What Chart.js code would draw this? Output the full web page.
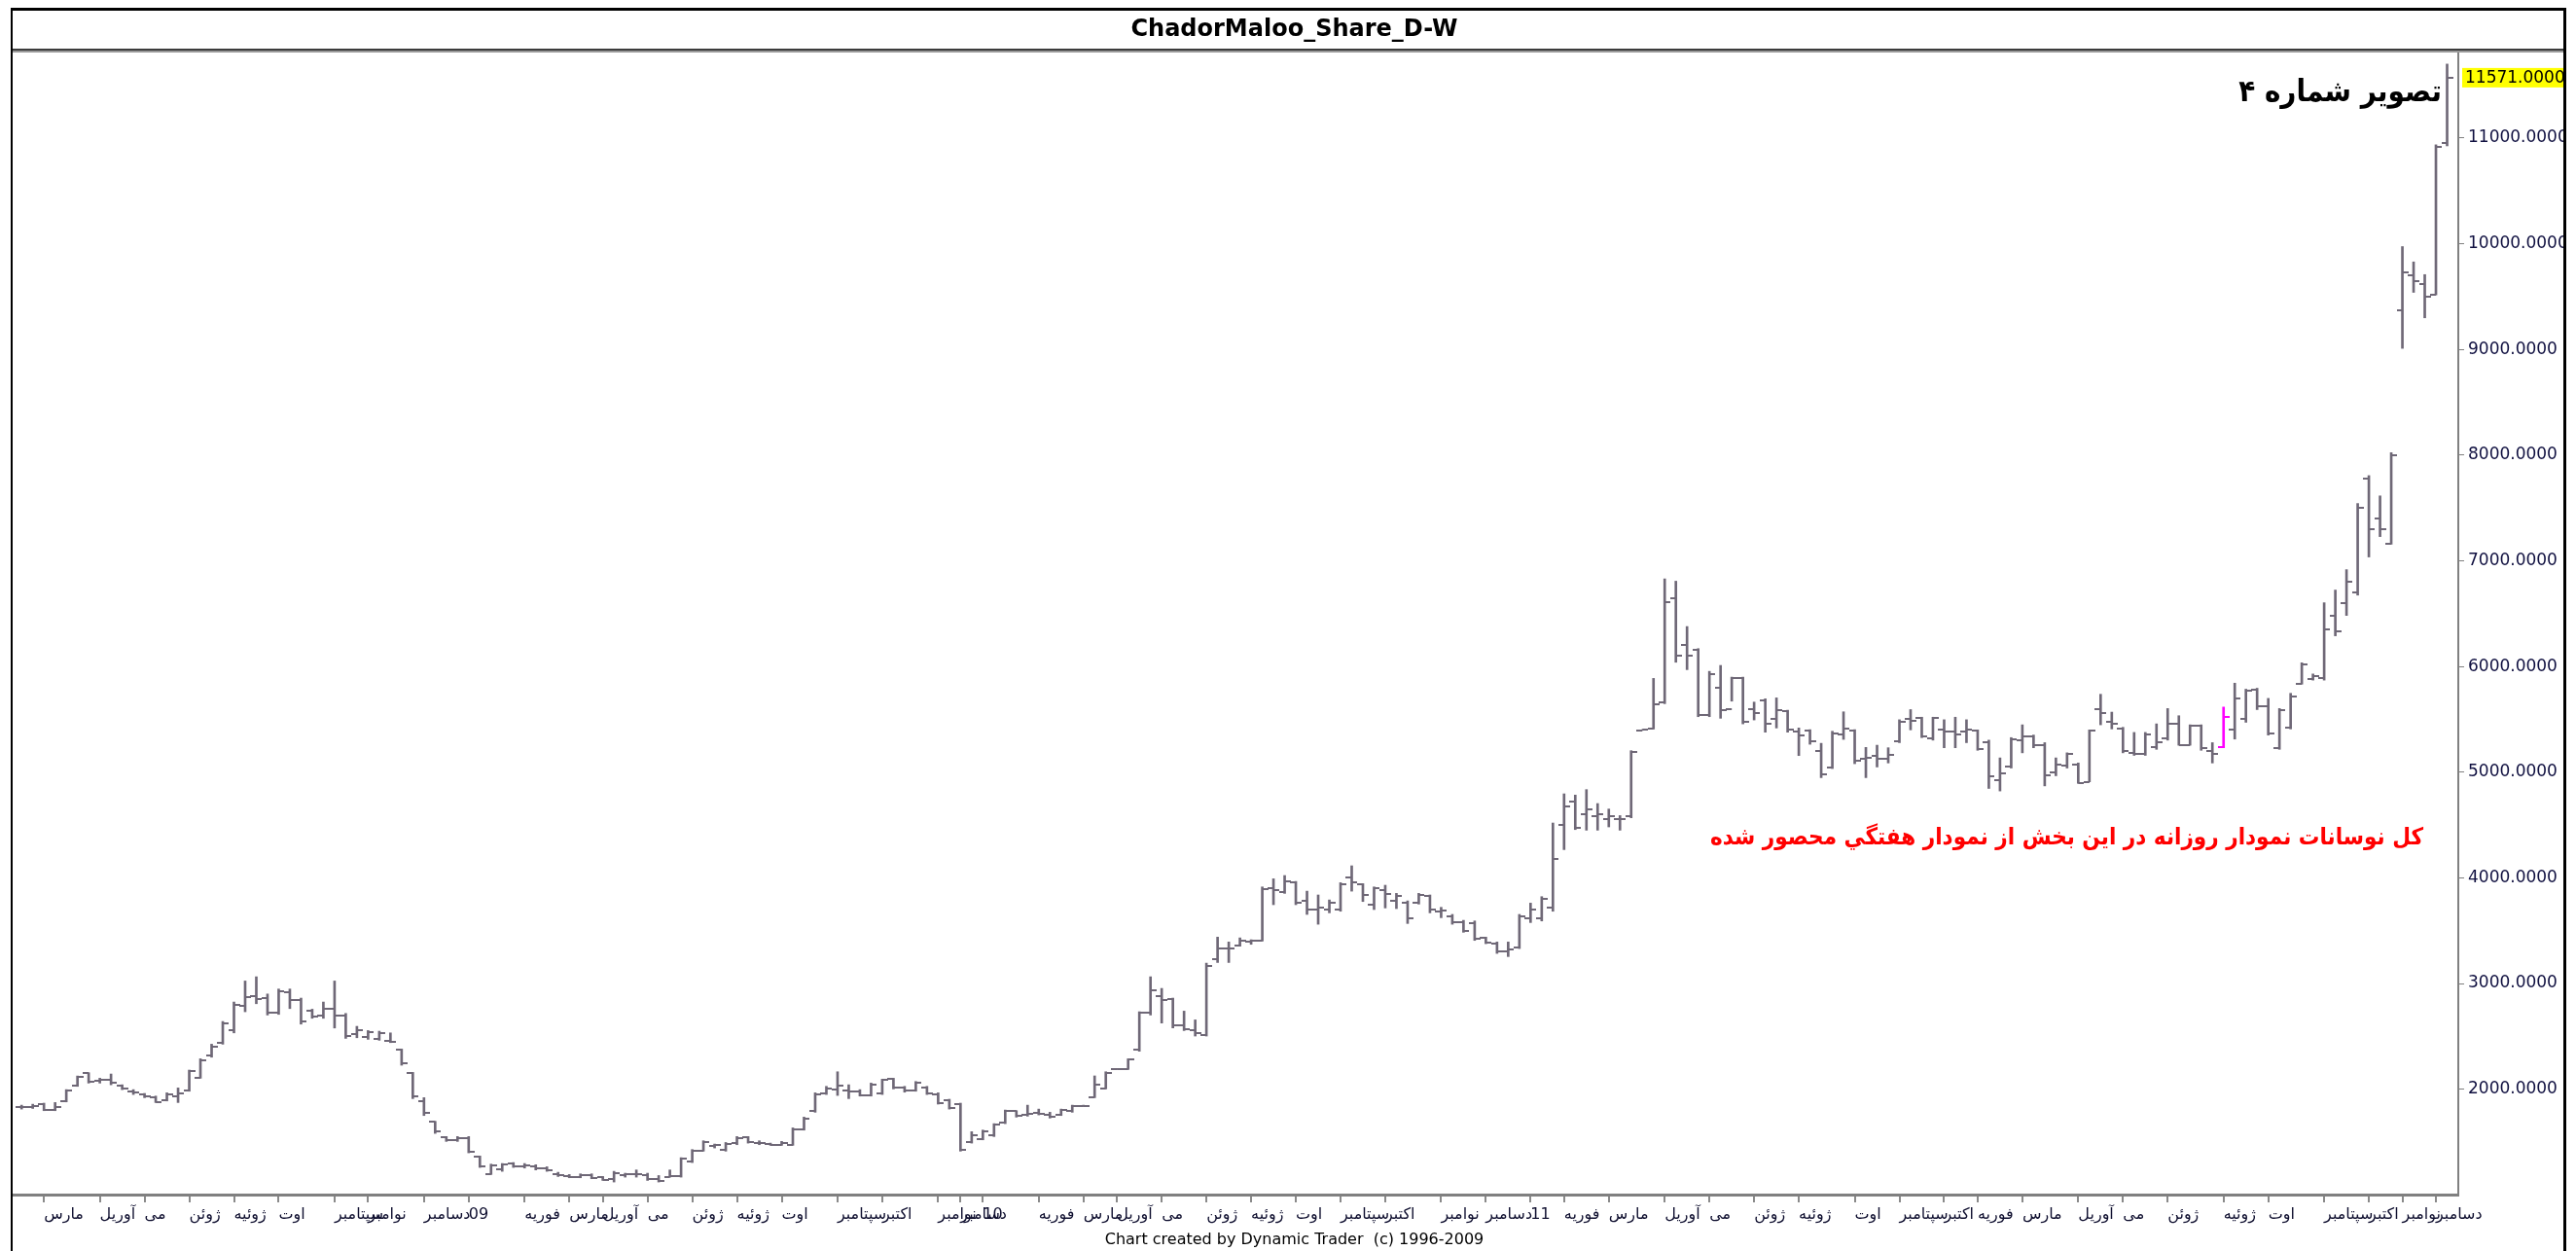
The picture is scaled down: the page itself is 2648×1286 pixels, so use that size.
<!DOCTYPE html>
<html>
<head>
<meta charset="utf-8">
<title>ChadorMaloo_Share_D-W</title>
<script src="https://cdn.jsdelivr.net/npm/chart.js@4/dist/chart.umd.min.js"></script>
<style>
  html, body { margin: 0; padding: 0; background: #fff; }
  canvas { display: block; }
</style>
</head>
<body>
<canvas id="chart" width="2648" height="1286"></canvas>
<script>
// weekly bars
const highVals = [
  1849,1858,1868,1874,1996,2125,2156,2104,2144,2042,
  1996,1960,1935,1966,2012,2181,2288,2426,2641,2825,
  3024,3064,2901,2948,2948,2862,2757,2825,3024,2717,
  2595,2555,2549,2533,2380,2159,1920,1696,1552,1552,
  1552,1368,1291,1297,1306,1297,1285,1266,1214,1193,
  1199,1199,1174,1223,1205,1236,1205,1183,1236,1352,
  1429,1512,1481,1496,1552,1552,1512,1490,1506,1634,
  1736,1966,2027,2165,2042,1996,2058,2095,2104,2027,
  2073,2027,1966,1905,1868,1598,1613,1674,1803,1797,
  1849,1812,1782,1812,1849,1849,2126,2165,2196,2288,
  2733,3064,2954,2862,2739,2656,3193,3439,3393,3432,
  3414,3914,3991,4022,3966,3874,3838,3791,3954,4114,
  3945,3914,3930,3853,3782,3853,3838,3721,3654,3598,
  3592,3439,3393,3393,3654,3761,3822,4519,4795,4783,
  4835,4703,4651,4589,5203,5402,5887,6829,6807,6378,
  6169,5954,6010,5899,5899,5663,5694,5703,5586,5418,
  5402,5273,5387,5571,5402,5234,5255,5231,5496,5592,
  5520,5520,5496,5520,5496,5400,5303,5135,5327,5448,
  5351,5279,5135,5183,5087,5400,5737,5568,5424,5376,
  5376,5457,5602,5534,5448,5448,5279,5616,5842,5785,
  5794,5698,5602,5746,6035,5929,6603,6723,6916,7542,
  7806,7614,8023,9973,9828,9708,10936,11700
];
const lowVals = [
  1812,1818,1797,1797,1880,2027,2058,2058,2042,1996,
  1950,1920,1874,1889,1874,1981,2104,2303,2426,2533,
  2733,2809,2702,2708,2763,2616,2671,2671,2579,2481,
  2487,2472,2463,2441,2227,1911,1751,1582,1506,1506,
  1398,1260,1193,1223,1260,1254,1236,1223,1174,1162,
  1162,1153,1137,1122,1168,1168,1137,1122,1168,1168,
  1306,1414,1444,1414,1475,1490,1475,1469,1469,1469,
  1613,1782,1950,1941,1911,1935,1935,1950,2003,1972,
  1981,1950,1859,1812,1414,1490,1521,1552,1674,1736,
  1745,1757,1727,1751,1782,1837,1920,2003,2187,2187,
  2359,2702,2626,2580,2555,2503,2503,3199,3199,3353,
  3371,3402,3746,3853,3746,3654,3561,3669,3684,3874,
  3776,3700,3715,3709,3568,3752,3669,3623,3561,3485,
  3408,3377,3285,3255,3331,3577,3592,3684,4267,4457,
  4451,4451,4482,4451,4568,5396,5408,5648,6040,5970,
  5525,5525,5510,5672,5457,5494,5378,5418,5378,5157,
  5264,4948,5034,5310,5080,4948,5049,5087,5279,5400,
  5327,5303,5231,5231,5279,5207,4846,4822,5039,5183,
  5231,4870,4966,5039,4894,4909,5448,5409,5183,5159,
  5159,5216,5303,5255,5255,5207,5087,5231,5313,5472,
  5592,5351,5216,5409,5833,5871,5871,6290,6483,6675,
  7036,7229,7157,9010,9540,9299,9516,10926
];
const openVals = [
  1830,1830,1860,1800,1885,2030,2150,2080,2090,2030,
  1980,1955,1920,1900,1930,1990,2110,2320,2440,2560,
  2790,2880,2860,2720,2920,2840,2740,2700,2760,2700,
  2520,2490,2480,2460,2370,2150,1890,1690,1545,1515,
  1540,1360,1200,1240,1300,1270,1270,1250,1200,1180,
  1170,1185,1165,1150,1190,1195,1190,1150,1170,1180,
  1320,1420,1460,1430,1490,1545,1490,1480,1475,1475,
  1620,1790,1960,2000,1990,1980,1945,1960,2095,2020,
  1990,2020,1955,1895,1860,1500,1530,1560,1680,1790,
  1760,1780,1760,1755,1790,1840,1925,2010,2190,2190,
  2370,2720,2880,2850,2600,2560,2510,3230,3330,3360,
  3400,3410,3900,3870,3960,3780,3700,3700,3700,4000,
  3940,3750,3880,3780,3760,3760,3830,3680,3640,3580,
  3570,3430,3380,3300,3340,3620,3620,3720,4500,4720,
  4600,4580,4560,4560,4580,5398,5410,5660,6650,6200,
  6160,5540,5800,5600,5890,5600,5680,5500,5580,5380,
  5390,5200,5040,5360,5390,5130,5150,5130,5290,5500,
  5510,5320,5400,5380,5380,5390,5280,4920,5050,5300,
  5340,5260,5000,5060,5070,4910,5600,5480,5410,5180,
  5170,5240,5320,5460,5260,5440,5200,5240,5400,5500,
  5780,5620,5230,5420,5840,5880,5890,6480,6600,6700,
  7780,7400,7160,9370,9700,9620,9520,10950
];
const closeVals = [
  1830,1840,1805,1830,1990,2120,2070,2085,2060,2010,
  1965,1930,1880,1950,1960,2170,2270,2400,2620,2800,
  2870,2850,2720,2930,2840,2640,2690,2760,2700,2500,
  2560,2540,2530,2450,2250,1930,1780,1600,1520,1540,
  1410,1270,1280,1290,1270,1275,1250,1230,1185,1170,
  1190,1160,1145,1210,1195,1200,1150,1135,1180,1340,
  1420,1500,1470,1485,1540,1500,1495,1475,1490,1620,
  1725,1950,2010,2030,1980,1945,2045,2085,2020,1990,
  2060,1960,1870,1820,1430,1560,1600,1665,1795,1750,
  1770,1765,1735,1800,1840,1845,2040,2150,2192,2280,
  2720,2940,2840,2600,2570,2530,3170,3330,3330,3410,
  3405,3890,3880,3970,3760,3700,3720,3760,3940,3960,
  3840,3900,3850,3830,3620,3840,3700,3690,3580,3500,
  3420,3390,3300,3320,3640,3700,3800,4180,4680,4470,
  4650,4600,4580,4560,5190,5400,5640,6610,6100,6100,
  5540,5930,5590,5890,5480,5560,5460,5590,5400,5350,
  5290,4980,5370,5410,5110,5140,5130,5160,5480,5490,
  5340,5510,5380,5360,5400,5220,4960,4990,5310,5340,
  5260,4970,5070,5170,4900,5390,5560,5460,5200,5170,
  5360,5280,5460,5260,5440,5230,5170,5520,5700,5770,
  5620,5370,5590,5720,6020,5910,6350,6330,6800,7500,
  7300,7300,8000,9730,9650,9500,10920,11571
];

// month ticks (bar index of first week) and their labels
const monthTickIdx = [
  2,7,11,15,19,23,28,31,36,40,45,49,52,56,60,64,68,73,77,82,84,86,91,95,98,102,106,
  110,114,118,122,127,131,135,138,142,147,151,155,159,164,168,172,175,179,184,188,192,197,201,206,210,213,216
];
const monthLabels = [
  'مارس','آوریل','می','ژوئن','ژوئیه','اوت','سپتامبر','نوامبر','دسامبر','09','فوریه',
  'مارس','آوریل','می','ژوئن','ژوئیه','اوت','سپتامبر','اکتبر','نوامبر','دسامبر','10','فوریه',
  'مارس','آوریل','می','ژوئن','ژوئیه','اوت','سپتامبر','اکتبر','نوامبر','دسامبر','11','فوریه',
  'مارس','آوریل','می','ژوئن','ژوئیه','اوت','سپتامبر','اکتبر','فوریه',
  'مارس','آوریل','می','ژوئن','ژوئیه','اوت','سپتامبر','اکتبر','نوامبر','دسامبر'
];
const yTickVals = [2000, 3000, 4000, 5000, 6000, 7000, 8000, 9000, 10000, 11000];
const lastPrice = 11571;
const highlightBar = 197;

const figureLabel = 'تصویر شماره ۴';
const noteText = 'کل نوسانات نمودار روزانه در این بخش از نمودار هفتگي محصور شده';

const barColor = '#6f6877';
const hiColor = '#ff00ff';

function tickImage(side, color) {
  const c = document.createElement('canvas');
  c.width = 12;
  c.height = 2;
  const g = c.getContext('2d');
  g.fillStyle = color;
  g.fillRect(side === 'left' ? 0 : 6, 0, 6, 2);
  return c;
}
const openTick = tickImage('left', barColor);
const openTickHi = tickImage('left', hiColor);
const closeTick = tickImage('right', barColor);
const closeTickHi = tickImage('right', hiColor);

const framePlugin = {
  id: 'frame',
  beforeDraw(chart) {
    const ctx = chart.ctx;
    ctx.save();
    ctx.fillStyle = '#fff';
    ctx.fillRect(0, 0, chart.width, chart.height);
    ctx.restore();
  },
  afterDraw(chart) {
    const ctx = chart.ctx;
    const y = chart.scales.y;
    ctx.save();

    // outer frame
    ctx.fillStyle = '#fff';
    ctx.fillRect(2638, 0, 10, 1286);
    ctx.fillStyle = '#000';
    ctx.fillRect(11, 8, 2627, 3);
    ctx.fillRect(11, 8, 2, 1278);
    ctx.fillRect(2635, 8, 3, 1278);
    ctx.fillStyle = '#3c3c3c';
    ctx.fillRect(13, 50, 2622, 2);
    ctx.fillStyle = '#9a9a9a';
    ctx.fillRect(13, 52, 2622, 2);

    // last price tag
    const py = y.getPixelForValue(lastPrice);
    ctx.fillStyle = '#ffff00';
    ctx.fillRect(2531, py - 10, 104, 20);
    ctx.fillStyle = '#000';
    ctx.font = '17px "DejaVu Sans"';
    ctx.textAlign = 'left';
    ctx.textBaseline = 'middle';
    ctx.fillText(lastPrice.toFixed(4), 2534, py + 1);

    // persian notes
    ctx.textAlign = 'right';
    ctx.textBaseline = 'alphabetic';
    ctx.font = 'bold 31px "DejaVu Sans Condensed"';
    ctx.fillStyle = '#000';
    ctx.fillText(figureLabel, 2510, 104);
    ctx.font = 'bold 24px "DejaVu Sans Condensed"';
    ctx.fillStyle = '#ff0000';
    ctx.fillText(noteText, 2491, 868);
    ctx.restore();
  }
};

const idx = highVals.map((_, i) => i);

new Chart(document.getElementById('chart'), {
  type: 'bar',
  data: {
    datasets: [
      {
        type: 'bar',
        data: idx.map(i => ({ x: i, y: [lowVals[i], highVals[i]] })),
        backgroundColor: idx.map(i => i === highlightBar ? hiColor : barColor),
        barThickness: 2,
        borderWidth: 0
      },
      {
        type: 'line',
        data: idx.map(i => ({ x: i, y: openVals[i] })),
        showLine: false,
        pointRadius: 3,
        pointStyle: ctx => ctx.dataIndex === highlightBar ? openTickHi : openTick
      },
      {
        type: 'line',
        data: idx.map(i => ({ x: i, y: closeVals[i] })),
        showLine: false,
        pointRadius: 3,
        pointStyle: ctx => ctx.dataIndex === highlightBar ? closeTickHi : closeTick
      }
    ]
  },
  options: {
    responsive: false,
    animation: false,
    events: [],
    layout: { padding: { left: 13, right: 0, top: 0, bottom: 0 } },
    plugins: {
      legend: { display: false },
      tooltip: { enabled: false },
      title: {
        display: true,
        text: 'ChadorMaloo_Share_D-W',
        color: '#000',
        font: { family: '"DejaVu Sans"', size: 24, weight: 'bold', lineHeight: 1.2 },
        padding: { top: 16, bottom: 10.2 }
      },
      subtitle: {
        display: true,
        position: 'bottom',
        text: 'Chart created by Dynamic Trader  (c) 1996-2009',
        color: '#000',
        font: { family: '"DejaVu Sans"', size: 16, lineHeight: 1.2 },
        padding: { top: 1, bottom: 1.8 }
      }
    },
    scales: {
      x: {
        type: 'linear',
        position: 'bottom',
        min: -0.8,
        max: 218,
        offset: false,
        afterBuildTicks: s => { s.ticks = monthTickIdx.map(v => ({ value: v })); },
        afterFit: s => { s.height = 36; },
        grid: { drawOnChartArea: false, drawTicks: true, tickLength: 8, color: '#8a8a8a', lineWidth: 2, offset: false },
        border: { display: true, color: '#808080', width: 3 },
        ticks: {
          autoSkip: false,
          maxRotation: 0,
          minRotation: 0,
          align: 'start',
          padding: 3,
          color: '#101030',
          font: { family: '"DejaVu Sans"', size: 16 },
          callback: (v, i) => monthLabels[i]
        }
      },
      y: {
        type: 'linear',
        position: 'right',
        min: 1003,
        max: 11800,
        afterBuildTicks: s => { s.ticks = yTickVals.map(v => ({ value: v })); },
        afterFit: s => { s.width = 121; },
        grid: { drawOnChartArea: false, drawTicks: true, tickLength: 6, color: '#808080' },
        border: { display: true, color: '#808080', width: 2 },
        ticks: {
          padding: 4,
          color: '#101040',
          font: { family: '"DejaVu Sans"', size: 17 },
          callback: v => Number(v).toFixed(4)
        }
      }
    }
  },
  plugins: [framePlugin]
});
</script>
</body>
</html>
